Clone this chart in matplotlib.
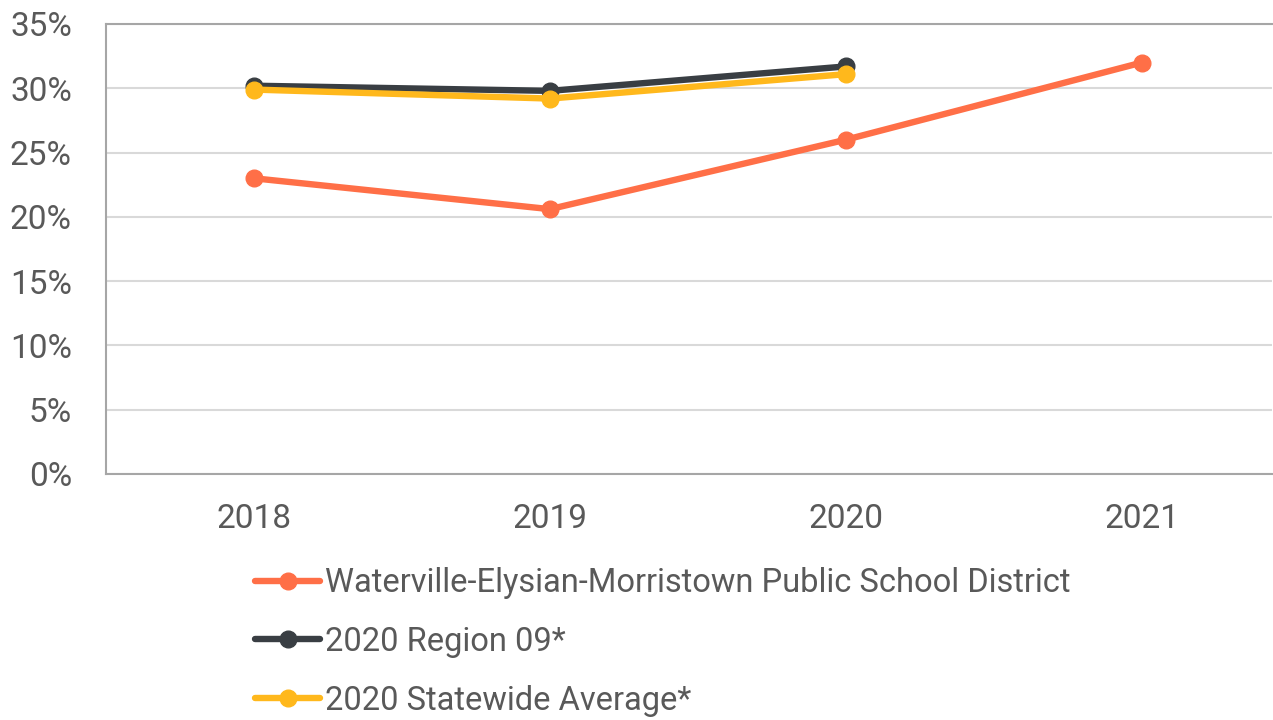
import matplotlib
matplotlib.use("Agg")
import matplotlib.pyplot as plt
from matplotlib.ticker import FuncFormatter

plt.rcParams['font.family'] = ['Roboto', 'DejaVu Sans']

# data
years = ['2018', '2019', '2020', '2021']
district = [23.0, 20.6, 26.0, 32.0]
region = [30.2, 29.8, 31.7]
statewide = [29.9, 29.2, 31.1]
y_ticks = [0, 5, 10, 15, 20, 25, 30, 35]

text_col = '#595959'
spine_col = '#A6A6A6'

fig = plt.figure(figsize=(12.73, 7.2), dpi=100)
ax = fig.add_axes([106 / 1273, 246 / 720, 1166 / 1273, 450 / 720])

x = list(range(len(years)))
ax.plot(x, district, color='#FF6F47', lw=4.6, marker='o', ms=12,
        label='Waterville-Elysian-Morristown Public School District', solid_capstyle='round')
ax.plot(x[:len(region)], region, color='#393E43', lw=4.6, marker='o', ms=12,
        label='2020 Region 09*', solid_capstyle='round')
ax.plot(x[:len(statewide)], statewide, color='#FFB81C', lw=4.6, marker='o', ms=12,
        label='2020 Statewide Average*', solid_capstyle='round')

ax.set_xlim(-0.5, 3.44)
ax.set_ylim(0, 35)
ax.set_xticks(x)
ax.set_xticklabels(years)
ax.set_yticks(y_ticks)
ax.yaxis.set_major_formatter(FuncFormatter(lambda v, p: f'{v:.0f}%'))
ax.tick_params(axis='both', length=0, labelsize=24, colors=text_col)
ax.tick_params(axis='y', pad=24.5)
ax.tick_params(axis='x', pad=21)
ax.grid(axis='y', color='#D9D9D9', lw=1.5)
ax.set_axisbelow(True)
for side in ['left', 'top', 'bottom']:
    ax.spines[side].set_color(spine_col)
    ax.spines[side].set_linewidth(1.5)
ax.spines['right'].set_visible(False)

leg = fig.legend(loc='upper left', bbox_to_anchor=(242 / 1273, 1 - 554 / 720),
                 frameon=False, fontsize=23.5, labelcolor=text_col,
                 handlelength=2.0, handletextpad=0.15, labelspacing=0.82,
                 borderaxespad=0)

fig.savefig('out.png', dpi=100)
